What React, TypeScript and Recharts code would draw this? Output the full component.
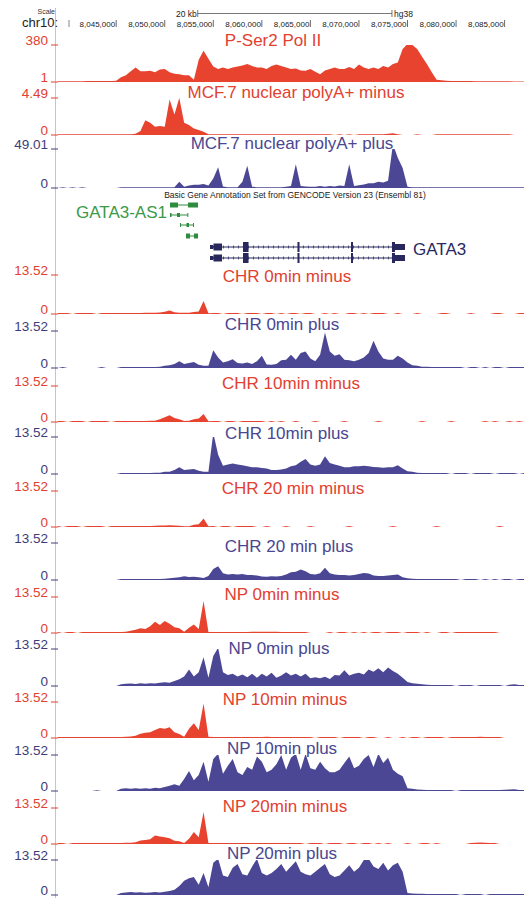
import React from 'react';
import {
  AreaChart, Area, XAxis, YAxis, ComposedChart, ReferenceArea, ReferenceLine,
} from 'recharts';

const RED = '#e8432f';
const RED_TEXT = '#e2412f';
const BLUE = '#4b4794';
const BLUE_TEXT = '#4a4790';
const BLUE_LABEL = '#3e3c77';
const GREEN = '#2f8c3e';
const GREEN_TEXT = '#3a9a48';
const NAVY = '#28285f';
const GUIDE = '#f3b3a9';
const FONT = '"Liberation Sans", Arial, Helvetica, sans-serif';

const W = 525;
const H = 898;
const PLOT_LEFT = 55;
const X_DOMAIN: [number, number] = [8038700, 8087100];

// genome bins, 500 bp each
const BIN_START = 8039000;
const BIN_SIZE = 500;
const POSITIONS = Array.from({ length: 97 }, (_, i) => BIN_START + i * BIN_SIZE);

const RULER_TICKS = [8045000, 8050000, 8055000, 8060000, 8065000, 8070000, 8075000, 8080000, 8085000];
const SCALE_BAR = [8053400, 8073400];

// ---- signal values per bin ----
const P_SER2 = [
  9, 9, 9, 9, 9, 8, 10, 10, 11, 11,
  12, 12, 15, 50, 70, 110, 150, 110, 110, 115,
  100, 130, 135, 100, 85, 80, 70, 70, 25, 230,
  320, 240, 160, 135, 150, 135, 150, 160, 170, 185,
  165, 150, 150, 135, 165, 180, 165, 150, 135, 140,
  120, 115, 135, 105, 80, 120, 135, 150, 135, 135,
  155, 135, 180, 150, 135, 150, 135, 165, 150, 185,
  200, 340, 390, 380, 340, 260, 185, 100, 25, 20,
  15, 12, 12, 10, 10, 10, 9, 9, 8, 8,
  9, 9, 8, 8, 7, 7, 7,
];
const MCF_MINUS = [
  0.1, 0.1, 0.1, 0.1, 0.1, 0.1, 0.1, 0.1, 0.1, 0.1,
  0.1, 0.1, 0.1, 0.1, 0.1, 0.1, 0.15, 0.5, 1.8, 1.5,
  1.0, 1.1, 1.0, 4.3, 2.5, 4.5, 1.5, 1.2, 0.8, 0.6,
  0.4, 0.1, 0.1, 0.1, 0.1, 0.1, 0.1, 0.1, 0.1, 0.1,
  0.1, 0.1, 0.1, 0.1, 0.1, 0.1, 0.1, 0.1, 0.1, 0.1,
  0.1, 0.1, 0.1, 0.1, 0.1, 0.1, 0.1, 0, 0.1, 0,
  0.1, 0, 0.1, 0.1, 0.1, 0.1, 0.1, 0.1, 0.15, 0.2,
  0.1, 0, 0, 0, 0.1, 0, 0, 0, 0.1, 0.1,
  0.1, 0.1, 0.1, 0.1, 0.1, 0.1, 0.1, 0.1, 0.1, 0.1,
  0.1, 0.1, 0.1, 0.1, 0, 0, 0,
];
const MCF_PLUS = [
  0, 0.8, 0, 0.8, 0, 0.8, 0, 0, 0, 0,
  0, 0, 0, 1, 1, 1, 1, 1, 1, 1,
  1, 1, 1, 1, 1, 8, 1.5, 3, 4, 4,
  5, 3, 12, 26, 2, 1, 1, 1, 8, 28,
  1.5, 1, 1, 1, 1, 1, 1, 1.5, 2.5, 30,
  2.5, 2, 1.5, 1.5, 2.5, 1.5, 2.5, 2, 3, 2.5,
  30, 2.5, 3.5, 4.5, 6, 6, 8, 7, 9, 55,
  38, 25, 1.5, 1, 1, 1, 1, 1, 1, 1,
  1, 1, 1, 1, 1, 1, 1, 1, 1, 1,
  1, 1, 1, 1, 1, 1, 1,
];
const CHR0_MINUS = [
  0.35, 0.35, 0.35, 0, 0.35, 0.35, 0.35, 0.35, 0, 0.35,
  0.35, 0.35, 0.35, 0.35, 0.35, 0.35, 0.35, 0.35, 0.4, 0.4,
  0.45, 0.5, 0.8, 1.2, 0.6, 0.4, 0.4, 0.4, 0.7, 0.9,
  4.5, 0.3, 0.35, 0.35, 0, 0.35, 0.35, 0.35, 0, 0.35,
  0.35, 0.35, 0, 0.35, 0.35, 0, 0.35, 0, 0.35, 0.35,
  0, 0.35, 0.35, 0, 0, 0.35, 0, 0.35, 0, 0,
  0.35, 0.35, 0, 0.35, 0, 0.35, 0.35, 0.35, 0, 0,
  0.35, 0, 0, 0, 0.35, 0, 0, 0, 0, 0.35,
  0.35, 0, 0, 0, 0, 0.35, 0, 0, 0, 0,
  0.35, 0.35, 0, 0, 0, 0.35, 0.35,
];
const CHR0_PLUS = [
  0, 0.35, 0, 0, 0, 0, 0, 0, 0, 0.35,
  0, 0, 0, 0.35, 0.35, 0.35, 0.35, 0.35, 0.35, 0.35,
  0.4, 0.5, 0.8, 1.0, 1.5, 2.5, 1.5, 1.8, 2.2, 1.2,
  0.8, 0.8, 6.5, 3.8, 2.0, 2.5, 3.2, 1.8, 1.6, 2.0,
  1.5, 2.5, 4.5, 1.3, 1.2, 1.5, 2.8, 3.0, 4.8, 3.0,
  5.5, 6.0, 3.5, 2.5, 4.8, 13, 6, 4.5, 5, 3,
  2.8, 2.5, 3.0, 3.8, 5.5, 10, 6, 3.5, 3, 3,
  4.5, 3.5, 2, 1.0, 0.8, 0.5, 0.5, 0.4, 0.4, 0.35,
  0.35, 0.35, 0.35, 0.35, 0, 0.35, 0.35, 0, 0.35, 0,
  0.35, 0.35, 0, 0.35, 0.35, 0.35, 0.35,
];
const CHR10_MINUS = [
  0.35, 0.35, 0, 0.35, 0.35, 0.35, 0, 0.35, 0.35, 0.35,
  0.35, 0, 0.35, 0.35, 0.35, 0.35, 0.35, 0.4, 0.4, 0.45,
  0.5, 1.0, 1.8, 2.5, 1.5, 1.0, 0.4, 0.5, 1.0, 1.3,
  3.0, 0.3, 0.35, 0.35, 0, 0.35, 0.35, 0, 0.35, 0.35,
  0.35, 0.35, 0.35, 0, 0.35, 0, 0.35, 0, 0, 0.35,
  0, 0, 0, 0.35, 0, 0, 0, 0, 0, 0.35,
  0, 0, 0, 0, 0, 0, 0.35, 0, 0, 0,
  0, 0, 0, 0, 0, 0.35, 0, 0, 0, 0,
  0, 0.35, 0, 0, 0, 0, 0, 0, 0.35, 0,
  0.35, 0, 0, 0.35, 0, 0.35, 0,
];
const CHR10_PLUS = [
  0, 0, 0, 0, 0, 0, 0, 0, 0, 0,
  0, 0, 0, 0.35, 0.35, 0.35, 0.35, 0.35, 0.4, 0.4,
  0.5, 0.5, 0.8, 0.8, 1.5, 2.5, 1.5, 1.6, 1.8, 1.2,
  0.8, 0.8, 15, 7, 3, 3.5, 3.8, 3.5, 3.2, 2.8,
  2.5, 2.5, 2.2, 2.0, 1.5, 1.5, 1.6, 2.0, 2.8, 3.2,
  4.5, 5.5, 3.5, 3.0, 3.5, 6.5, 4, 3.5, 3.0, 2.5,
  2.5, 2.8, 2.8, 3.0, 2.8, 2.6, 2.5, 2.3, 2.5, 2.5,
  3.2, 2.0, 1.0, 0.8, 0.5, 0.4, 0.35, 0.35, 0.35, 0.35,
  0.35, 0, 0.35, 0.35, 0.35, 0, 0.35, 0.35, 0.35, 0.35,
  0, 0.35, 0.35, 0.35, 0.35, 0, 0.35,
];
const CHR20_MINUS = [
  0.35, 0, 0.35, 0.35, 0.35, 0, 0.35, 0.35, 0.35, 0.35,
  0, 0.35, 0.35, 0.35, 0.35, 0.35, 0.35, 0.35, 0.4, 0.4,
  0.5, 0.6, 0.6, 0.7, 0.6, 0.5, 0.3, 0.3, 0.8, 1.0,
  3.2, 0.3, 0.35, 0, 0.35, 0.35, 0, 0.35, 0.35, 0.35,
  0.35, 0, 0, 0.35, 0, 0, 0, 0.35, 0, 0,
  0, 0, 0.35, 0, 0, 0, 0, 0, 0, 0,
  0.35, 0, 0, 0, 0, 0, 0, 0, 0, 0.35,
  0, 0, 0, 0, 0, 0, 0, 0, 0.35, 0,
  0, 0, 0, 0, 0, 0, 0, 0, 0, 0,
  0, 0.35, 0, 0, 0, 0, 0,
];
const CHR20_PLUS = [
  0, 0, 0, 0, 0, 0, 0, 0, 0, 0,
  0, 0, 0, 0.35, 0.35, 0.35, 0.35, 0.35, 0.35, 0.35,
  0.4, 0.4, 0.5, 0.6, 0.8, 1.0, 1.4, 1.1, 1.2, 1.0,
  0.7, 1.5, 4.0, 5.0, 2.5, 2.0, 2.2, 2.0, 2.2, 1.8,
  1.8, 1.6, 1.3, 1.2, 1.4, 1.3, 1.5, 2.0, 2.8, 3.0,
  3.8, 3.2, 2.2, 2.0, 2.5, 4.5, 2.5, 2.0, 1.8, 1.8,
  1.6, 1.8, 2.2, 2.6, 2.4, 1.6, 1.5, 1.5, 1.6, 1.8,
  2.0, 1.0, 0.6, 0.5, 0.4, 0.35, 0.35, 0.35, 0.35, 0.35,
  0.35, 0.35, 0.35, 0, 0.35, 0.35, 0.35, 0, 0.35, 0,
  0.35, 0, 0.35, 0.35, 0, 0.35, 0.35,
];
const NP0_MINUS = [
  0.35, 0, 0.35, 0.35, 0, 0.35, 0.35, 0.35, 0.35, 0.35,
  0.35, 0.35, 0.35, 0.4, 0.5, 0.8, 1.2, 1.8, 1.5, 2.5,
  4.2, 3.0, 4.5, 3.5, 2.2, 1.8, 0.5, 2.0, 3.2, 1.5,
  12, 0.4, 0.35, 0.35, 0.35, 0.35, 0.35, 0.35, 0.35, 0.35,
  0.5, 0.5, 0.5, 0.5, 0.5, 0.5, 0.4, 0.4, 0.35, 0.35,
  0.35, 0.35, 0, 0, 0, 0, 0.35, 0, 0.35, 0.35,
  0, 0.35, 0, 0.35, 0, 0.35, 0.35, 0, 0.35, 0.35,
  0.35, 0, 0.35, 0.35, 0.35, 0, 0.35, 0, 0, 0.35,
  0.35, 0, 0.35, 0.35, 0.35, 0.35, 0.35, 0.35, 0.35, 0.35,
  0.35, 0, 0, 0, 0, 0, 0,
];
const NP0_PLUS = [
  0, 0, 0, 0, 0, 0, 0, 0, 0, 0,
  0, 0, 0, 0.6, 0.8, 0.9, 0.7, 1.0, 0.8, 1.0,
  0.9, 1.2, 1.4, 1.2, 1.8, 2.5, 3.5, 6.0, 3.5, 5.0,
  10.5, 3.0, 11, 14, 5, 4, 4.5, 3.5, 4.2, 3.2,
  4.5, 3.0, 4.5, 3.5, 4.8, 3.0, 3.8, 5.0, 3.8, 4.5,
  3.5, 4.5, 2.8, 3.2, 2.8, 3.4, 2.6, 4.0, 3.8, 5.8,
  3.8, 4.5, 4.8, 4.2, 6.0, 5.2, 6.5, 5.0, 6.8, 5.5,
  4.5, 3.0, 1.5, 1.0, 0.8, 0.6, 0.5, 0.4, 0.35, 0.35,
  0.35, 0.35, 0, 0.35, 0.35, 0.35, 0, 0.35, 0.35, 0.35,
  0.35, 0.35, 0, 0.5, 0.6, 0.4, 0.35,
];
const NP10_MINUS = [
  0.35, 0.35, 0.35, 0.35, 0.35, 0.35, 0.35, 0.35, 0.35, 0.35,
  0.35, 0.35, 0.35, 0.4, 0.5, 0.6, 0.8, 1.6, 2.0, 2.2,
  3.0, 3.8, 3.5, 4.0, 2.2, 1.5, 0.5, 3.5, 5.5, 3.0,
  13, 0.5, 0.35, 0.35, 0.35, 0.35, 0.35, 0.35, 0.35, 0.35,
  0.4, 0.4, 0.4, 0.45, 0.4, 0.4, 0.35, 0.35, 0.35, 0.35,
  0.35, 0.35, 0.35, 0, 0.35, 0.35, 0.35, 0.35, 0, 0.35,
  0.35, 0.35, 0.35, 0, 0.35, 0.35, 0, 0, 0.35, 0,
  0, 0.35, 0, 0.35, 0.35, 0, 0.35, 0.35, 0.35, 0.35,
  0, 0.35, 0.35, 0.35, 0.35, 0.35, 0.35, 0.5, 0.4, 0.35,
  0.35, 0.35, 0, 0, 0, 0, 0,
];
const NP10_PLUS = [
  0, 0, 0, 0, 0, 0, 0, 0, 0.3, 0,
  0, 0, 0, 0.8, 1.0, 0.8, 1.0, 0.8, 1.0, 0.8,
  1.2, 1.0, 1.5, 2.0, 2.5, 2.0, 4.5, 7.5, 4.0, 6.0,
  11, 3.5, 12, 14, 6.5, 9.5, 12, 7, 6, 9,
  8, 13, 11, 7, 8, 10, 13.5, 8, 12.5, 14,
  8, 14, 8.5, 8, 11, 8.5, 7, 7, 8, 10.5,
  13, 8.5, 9.5, 12, 13.5, 9, 14, 10.5, 12.5, 8,
  6.5, 5.5, 1.0, 0.8, 0.6, 0.5, 0.4, 0.4, 0.35, 0.35,
  0.35, 0.35, 0, 0.35, 0.35, 0.35, 0.35, 0.35, 0.35, 0.35,
  0.35, 0.35, 0.5, 0.6, 0.7, 0.4, 0.35,
];
const NP20_MINUS = [
  0.35, 0.35, 0, 0.35, 0.35, 0.35, 0.35, 0.35, 0.35, 0.35,
  0.35, 0.35, 0.35, 0.4, 0.5, 0.5, 0.7, 1.3, 1.5, 1.8,
  3.2, 2.8, 2.5, 2.2, 1.2, 1.0, 0.4, 2.0, 4.5, 2.5,
  12, 0.4, 0.35, 0.35, 0.35, 0.35, 0.35, 0.35, 0.35, 0.35,
  0.35, 0.35, 0.4, 0.4, 0.35, 0.35, 0.35, 0.35, 0.35, 0.35,
  0.35, 0, 0.35, 0.35, 0.35, 0, 0.35, 0.35, 0.35, 0,
  0.35, 0.35, 0, 0.35, 0.35, 0, 0.35, 0, 0.35, 0,
  0, 0, 0.35, 0, 0, 0.35, 0.35, 0, 0.35, 0,
  0, 0, 0, 0, 0, 0.35, 0.5, 0.6, 0.5, 0.35,
  0.35, 0, 0, 0, 0, 0, 0,
];
const NP20_PLUS = [
  0, 0, 0, 0, 0, 0, 0, 0, 0, 0,
  0, 0, 0, 0.8, 1.0, 1.2, 1.0, 1.1, 0.9, 1.0,
  1.2, 1.0, 1.3, 1.5, 2.0, 3.5, 5.5, 6.5, 7.0, 4.0,
  8.5, 3.0, 12.5, 14, 7.5, 7, 10.5, 12, 8, 7.5,
  11, 14, 8.5, 7.5, 8.5, 10, 12, 9, 11, 13,
  9, 8, 7.5, 9, 10.5, 12, 8, 7, 7.5, 9.5,
  11.5, 9, 10.5, 13.5, 14, 11, 10, 12.5, 9.5, 11.5,
  12.5, 9, 0.8, 0.6, 0.5, 0.5, 0.4, 0.4, 0.35, 0.35,
  0.35, 0.35, 0.35, 0, 0.35, 0.35, 0.35, 0.35, 0, 0.35,
  0.35, 0.35, 0.35, 0.4, 0.4, 0.35, 0.35,
];

const TRACKS = [
  { name: 'P-Ser2 Pol II', values: P_SER2, range: [1, 380], strand: 'minus' },
  { name: 'MCF.7 nuclear polyA+ minus', values: MCF_MINUS, range: [0, 4.49], strand: 'minus' },
  { name: 'MCF.7 nuclear polyA+ plus', values: MCF_PLUS, range: [0, 49.01], strand: 'plus' },
  { name: 'CHR 0min minus', values: CHR0_MINUS, range: [0, 13.52], strand: 'minus' },
  { name: 'CHR 0min plus', values: CHR0_PLUS, range: [0, 13.52], strand: 'plus' },
  { name: 'CHR 10min minus', values: CHR10_MINUS, range: [0, 13.52], strand: 'minus' },
  { name: 'CHR 10min plus', values: CHR10_PLUS, range: [0, 13.52], strand: 'plus' },
  { name: 'CHR 20 min minus', values: CHR20_MINUS, range: [0, 13.52], strand: 'minus' },
  { name: 'CHR 20 min plus', values: CHR20_PLUS, range: [0, 13.52], strand: 'plus' },
  { name: 'NP 0min minus', values: NP0_MINUS, range: [0, 13.52], strand: 'minus' },
  { name: 'NP 0min plus', values: NP0_PLUS, range: [0, 13.52], strand: 'plus' },
  { name: 'NP 10min minus', values: NP10_MINUS, range: [0, 13.52], strand: 'minus' },
  { name: 'NP 10min plus', values: NP10_PLUS, range: [0, 13.52], strand: 'plus' },
  { name: 'NP 20min minus', values: NP20_MINUS, range: [0, 13.52], strand: 'minus' },
  { name: 'NP 20min plus', values: NP20_PLUS, range: [0, 13.52], strand: 'plus' },
];

// pixel layout of each track (max tick, zero tick, title)
const LAYOUT = [
  { top: 45, bottom: 82, titleX: 273, titleY: 46 },
  { top: 98, bottom: 135, titleX: 296, titleY: 98 },
  { top: 149, bottom: 188, titleX: 292, titleY: 149 },
  { top: 275, bottom: 314, titleX: 287, titleY: 282 },
  { top: 331, bottom: 368, titleX: 282, titleY: 330 },
  { top: 386, bottom: 422, titleX: 291, titleY: 389 },
  { top: 437, bottom: 474, titleX: 287, titleY: 439 },
  { top: 491, bottom: 527, titleX: 293, titleY: 494 },
  { top: 543, bottom: 580, titleX: 289, titleY: 552 },
  { top: 597, bottom: 633, titleX: 282, titleY: 600 },
  { top: 649, bottom: 686, titleX: 279, titleY: 654 },
  { top: 702, bottom: 738, titleX: 285, titleY: 705 },
  { top: 755, bottom: 791, titleX: 282, titleY: 754 },
  { top: 808, bottom: 844, titleX: 285, titleY: 812 },
  { top: 860, bottom: 895, titleX: 282, titleY: 859 },
];

// GENCODE gene models (chromStart, chromEnd)
const AS1_SPANS = [[8050540, 8053430], [8050540, 8052400], [8051570, 8053010], [8052190, 8053430]];
const AS1_EXONS = [
  [[8050540, 8051370], [8052400, 8053430]],
  [[8050540, 8050700], [8051260, 8051570], [8052330, 8052430]],
  [[8051570, 8051680], [8052240, 8052500], [8052910, 8053010]],
  [[8052190, 8052600], [8053010, 8053430]],
];
const GATA3_SPAN = [8054970, 8073710];
const GATA3_EXONS = [
  [8054660, 8054970], [8055020, 8055900], [8058060, 8058630], [8063670, 8063880],
  [8069180, 8069390], [8073400, 8073710], [8073710, 8074740],
];
// drawing rows / exon heights for the annotation panel
const AS1_ROWS = [205, 215, 225, 236];
const AS1_THICK = [5, 4, 4, 5];
const GATA3_ROWS = [247, 258];
const GATA3_THICK = [4, 7, 10, 10, 10, 10, 6];

const toPx = (pos: number) =>
  PLOT_LEFT + ((pos - X_DOMAIN[0]) / (X_DOMAIN[1] - X_DOMAIN[0])) * (W - PLOT_LEFT);

const HeaderTick = (props: any) => {
  const { x, payload } = props;
  return (
    <g>
      <text x={x - 1} y={27} textAnchor="end" fontSize={8} fill="#222" fontFamily={FONT}>
        {Number(payload.value).toLocaleString('en-US')}
      </text>
      <line x1={x} x2={x} y1={20} y2={27} stroke="#444" strokeWidth={0.8} />
    </g>
  );
};

const makeYTick = (color: string) => (props: any) => {
  const { y, payload } = props;
  return (
    <g>
      <text x={48} y={y} textAnchor="end" fontSize={13.5} fill={color} fontFamily={FONT}>
        {payload.value}
      </text>
      <line x1={51} x2={58} y1={y} y2={y} stroke={color} strokeWidth={1} />
    </g>
  );
};

function Track({ index }: { index: number }) {
  const t = TRACKS[index];
  const l = LAYOUT[index];
  const first = index === 0;
  const pad = first ? l.top : 16;
  const below = Math.min(5, H - l.bottom);
  const height = l.bottom - l.top + pad + below;
  const fill = t.strand === 'plus' ? BLUE : RED;
  const labelColor = t.strand === 'plus' ? BLUE_LABEL : RED_TEXT;
  const data = POSITIONS.map((pos, i) => ({ pos, v: t.values[i] }));

  return (
    <div style={{ position: 'absolute', left: 0, top: l.top - pad, width: W, height }}>
      <AreaChart width={W} height={height} data={data}
        margin={{ top: first ? 0 : pad, right: 0, bottom: below, left: 0 }}>
        {first ? (
          <XAxis dataKey="pos" type="number" domain={X_DOMAIN} orientation="top" height={pad}
            ticks={RULER_TICKS} interval={0} axisLine={false} tickLine={false}
            tick={HeaderTick} allowDataOverflow />
        ) : (
          <XAxis dataKey="pos" type="number" domain={X_DOMAIN} hide allowDataOverflow />
        )}
        <YAxis type="number" domain={t.range} ticks={t.range} interval={0} width={PLOT_LEFT}
          axisLine={false} tickLine={false} tick={makeYTick(labelColor)} allowDataOverflow />
        <Area dataKey="v" type="linear" fill={fill} fillOpacity={1} stroke="none"
          dot={false} activeDot={false} isAnimationActive={false} />
      </AreaChart>
    </div>
  );
}

function GenePanel() {
  const top = 190;
  const h = 75;
  return (
    <div style={{ position: 'absolute', left: 0, top, width: W, height: h }}>
      <ComposedChart width={W} height={h} data={[]} margin={{ top: 0, right: 0, bottom: 0, left: PLOT_LEFT }}>
        <XAxis dataKey="pos" type="number" domain={X_DOMAIN} hide allowDataOverflow />
        <YAxis type="number" domain={[top, top + h]} reversed hide allowDataOverflow />
        {AS1_SPANS.map((s, r) => (
          <ReferenceLine key={`as1l${r}`} segment={[{ x: s[0], y: AS1_ROWS[r] }, { x: s[1], y: AS1_ROWS[r] }]}
            stroke={GREEN} strokeWidth={1} ifOverflow="visible" />
        ))}
        {AS1_EXONS.map((ex, r) => ex.map((e, k) => (
          <ReferenceArea key={`as1e${r}-${k}`} x1={e[0]} x2={e[1]}
            y1={AS1_ROWS[r] - AS1_THICK[r] / 2} y2={AS1_ROWS[r] + AS1_THICK[r] / 2}
            fill={GREEN} fillOpacity={1} stroke="none" ifOverflow="visible" />
        )))}
        {GATA3_ROWS.map((row) => (
          <ReferenceLine key={`gl${row}`} segment={[{ x: GATA3_SPAN[0], y: row }, { x: GATA3_SPAN[1], y: row }]}
            stroke={NAVY} strokeWidth={1} ifOverflow="visible" />
        ))}
        {GATA3_ROWS.map((row) => (
          <ReferenceLine key={`gc${row}`} segment={[{ x: GATA3_SPAN[0], y: row }, { x: GATA3_SPAN[1], y: row }]}
            stroke={NAVY} strokeWidth={3} strokeDasharray="1 4" strokeOpacity={0.7} ifOverflow="visible" />
        ))}
        {GATA3_ROWS.map((row) => GATA3_EXONS.map((e, k) => (
          <ReferenceArea key={`ge${row}-${k}`} x1={e[0]} x2={e[1]}
            y1={row - GATA3_THICK[k] / 2} y2={row + GATA3_THICK[k] / 2}
            fill={NAVY} fillOpacity={1} stroke="none" ifOverflow="visible" />
        )))}
      </ComposedChart>
    </div>
  );
}

function Overlay() {
  const sx0 = toPx(SCALE_BAR[0]);
  const sx1 = toPx(SCALE_BAR[1]);
  return (
    <svg width={W} height={H} style={{ position: 'absolute', left: 0, top: 0 }} fontFamily={FONT}>
      <text x={55} y={14} textAnchor="end" fontSize={7} fill="#333">Scale</text>
      <text x={sx0 - 1} y={17} textAnchor="end" fontSize={8.5} fill="#222">20 kb</text>
      <line x1={sx0} x2={sx1} y1={13.5} y2={13.5} stroke="#555" strokeWidth={0.8} />
      <line x1={sx0} x2={sx0} y1={10} y2={17} stroke="#555" strokeWidth={0.8} />
      <line x1={sx1} x2={sx1} y1={10} y2={17} stroke="#555" strokeWidth={0.8} />
      <text x={sx1 + 2} y={17} fontSize={8.5} fill="#222">hg38</text>
      <text x={22} y={27} fontSize={13} fill="#222">chr10:</text>
      <line x1={69} x2={69} y1={20} y2={27} stroke="#666" strokeWidth={0.8} />

      {TRACKS.map((t, i) => (
        <text key={t.name} x={LAYOUT[i].titleX} y={LAYOUT[i].titleY} textAnchor="middle" fontSize={17}
          fill={t.strand === 'plus' ? BLUE_TEXT : RED_TEXT}>{t.name}</text>
      ))}

      <text x={295} y={198} textAnchor="middle" fontSize={8.5} fill="#222">
        Basic Gene Annotation Set from GENCODE Version 23 (Ensembl 81)
      </text>
      <text x={167} y={218} textAnchor="end" fontSize={17} fill={GREEN_TEXT}>GATA3-AS1</text>
      <text x={413} y={255} fontSize={17} fill={NAVY}>GATA3</text>
    </svg>
  );
}

export default function App() {
  return (
    <div style={{ position: 'absolute', left: 0, top: 0, width: W, height: H, overflow: 'hidden', background: '#fff' }}>
      <div style={{ position: 'absolute', left: PLOT_LEFT, top: 8, width: 1, height: H - 8, background: GUIDE }} />
      <Overlay />
      <GenePanel />
      {TRACKS.map((t, i) => <Track key={t.name} index={i} />)}
    </div>
  );
}
